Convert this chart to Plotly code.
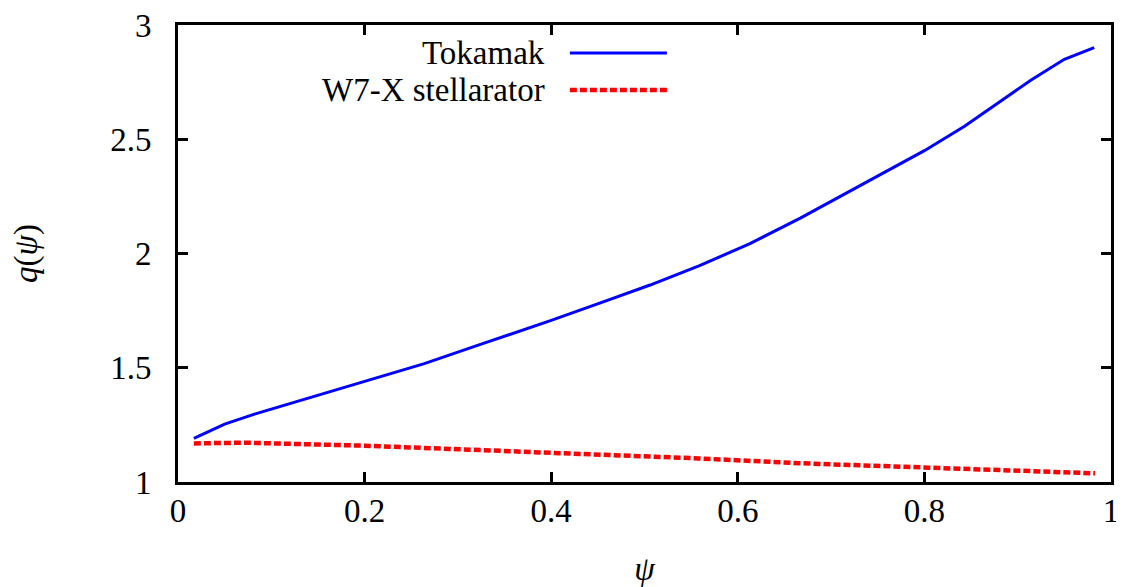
import plotly.graph_objects as go

# Data
tokamak_psi = [0.017, 0.05, 0.082, 0.132, 0.2, 0.264, 0.321, 0.4, 0.452, 0.506,
               0.559, 0.613, 0.667, 0.721, 0.757, 0.8, 0.843, 0.878, 0.914,
               0.95, 0.982]
tokamak_q = [1.191, 1.253, 1.297, 1.358, 1.438, 1.518, 1.598, 1.707, 1.783, 1.862,
             1.947, 2.043, 2.155, 2.274, 2.355, 2.45, 2.557, 2.655, 2.758,
             2.85, 2.901]

w7x_psi = [0.017, 0.071, 0.2, 0.4, 0.452, 0.559, 0.667, 0.774, 0.881, 0.983]
w7x_q = [1.169, 1.172, 1.159, 1.128, 1.121, 1.103, 1.082, 1.067, 1.052, 1.038]

series_names = ["Tokamak", "W7-X stellarator"]
x_ticks = [0, 0.2, 0.4, 0.6, 0.8, 1]
y_ticks = [1, 1.5, 2, 2.5, 3]

FONT = "Liberation Serif"
FS = 33

fig = go.Figure()
fig.add_trace(go.Scatter(x=tokamak_psi, y=tokamak_q, mode="lines",
                         name=series_names[0],
                         line=dict(color="#0000ff", width=3)))
fig.add_trace(go.Scatter(x=w7x_psi, y=w7x_q, mode="lines",
                         name=series_names[1],
                         line=dict(color="#ff0000", width=4.5, dash="7px,3px")))

axis_common = dict(showline=True, linecolor="black", linewidth=3, mirror="ticks",
                   ticks="inside", ticklen=10, tickwidth=2.5, tickcolor="black",
                   showgrid=False, zeroline=False, automargin=False,
                   ticklabeloverflow="allow",
                   tickfont=dict(family=FONT, size=FS, color="black"))

fig.update_xaxes(range=[0, 1], tickvals=x_ticks, ticklabelstandoff=-3,
                 title=dict(text="<i>ψ</i>", font=dict(family=FONT, size=FS, color="black"),
                            standoff=40),
                 **axis_common)
fig.update_yaxes(range=[1, 3], tickvals=y_ticks, ticklabelstandoff=17,
                 title=dict(text="<i>q</i>(<i>ψ</i>)", font=dict(family=FONT, size=FS, color="black"),
                            standoff=64),
                 **axis_common)

# Legend drawn gnuplot-style: text on the left, sample on the right
rows = [(0.9387, "#0000ff", 3, "solid"), (0.8578, "#ff0000", 4.5, "7px,3px")]
for name, (yp, col, wd, ds) in zip(series_names, rows):
    fig.add_annotation(x=0.3955, y=yp, xref="paper", yref="paper", text=name,
                       showarrow=False, xanchor="right", yanchor="middle",
                       font=dict(family=FONT, size=FS, color="black"))
    fig.add_shape(type="line", xref="paper", yref="paper", x0=0.420, x1=0.524,
                  y0=yp, y1=yp, line=dict(color=col, width=wd, dash=ds))

# the page body adds an 8px offset, so the figure is sized to fit inside the window
fig.update_layout(width=1116, height=579, showlegend=False,
                  margin=dict(l=170, r=13, t=17, b=105),
                  plot_bgcolor="white", paper_bgcolor="white",
                  font=dict(family=FONT, size=FS, color="black"))

fig.write_html("out.html")
